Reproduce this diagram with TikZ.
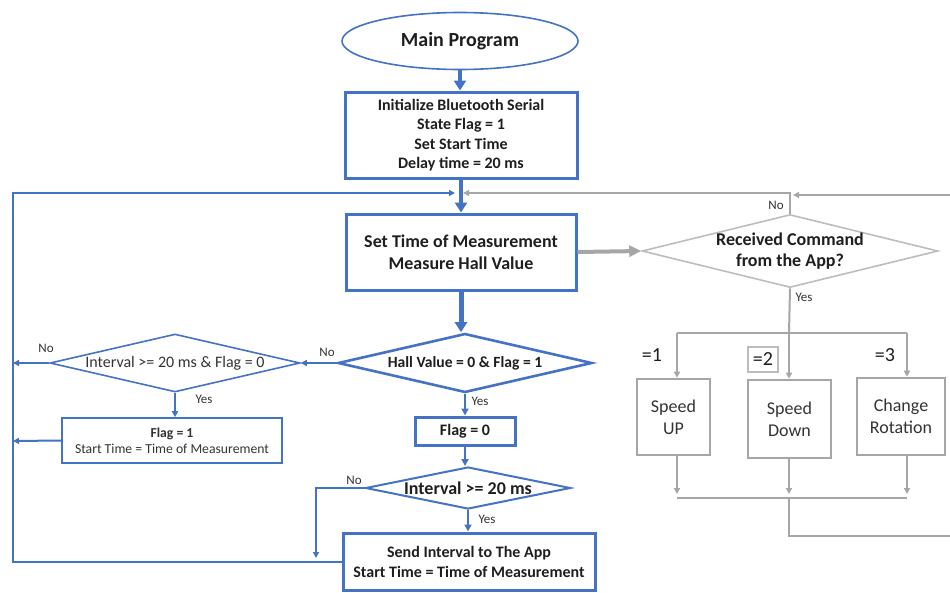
\documentclass[tikz,border=0pt]{standalone}
\usepackage{fontspec}
\setmainfont{Carlito}
\usetikzlibrary{arrows.meta,shapes.geometric,calc}
\definecolor{flowblue}{HTML}{4472C4}
\definecolor{flowgray}{HTML}{A6A6A6}
\definecolor{lightgray}{HTML}{BDBDBD}
\definecolor{inkdark}{HTML}{1E1E1E}
\definecolor{inksoft}{HTML}{333333}

\begin{document}
\begin{tikzpicture}[x=1pt,y=-1pt,
  every node/.style={text=inkdark, inner sep=0pt, align=center},
  thickbox/.style={rectangle, draw=flowblue, line width=3pt, font=\bfseries\fontsize{16}{19.5}\selectfont},
  thinbox/.style={rectangle, draw=flowblue, line width=1.6pt},
  graybox/.style={rectangle, draw=flowgray, line width=2.6pt, font=\fontsize{18}{22}\selectfont, text=inksoft},
  decision/.style={diamond, draw=flowblue, line width=1.8pt},
  bigtip/.style={-{Triangle[length=10pt,width=12pt]}},
  midtip/.style={-{Triangle[length=7pt,width=7pt]}},
  smalltip/.style={-{Triangle[length=6pt,width=6pt]}},
  blueline/.style={draw=flowblue, line width=2pt},
  bluethick/.style={draw=flowblue, line width=4pt},
  grayline/.style={draw=flowgray, line width=2pt},
  tag/.style={font=\fontsize{13}{15}\selectfont, text=inksoft},
  eqtag/.style={font=\fontsize{20}{22}\selectfont, text=inkdark}
]
\useasboundingbox (0,0) rectangle (950,592);

% ---------- main flow (blue) ----------
\node[ellipse, draw=flowblue, line width=1.6pt, minimum width=236pt, minimum height=57pt,
      font=\bfseries\fontsize{20}{22}\selectfont] (main) at (460,41) {Main Program};

\node[thickbox, minimum width=232pt, minimum height=86pt] (init) at (461,135)
  {Initialize Bluetooth Serial\\State Flag = 1\\Set Start Time\\Delay time = 20 ms};

\node[thickbox, minimum width=230pt, minimum height=76pt, font=\bfseries\fontsize{18}{22}\selectfont] (meas) at (461,252)
  {Set Time of Measurement\\Measure Hall Value};

\node[decision, line width=2.6pt, minimum width=254pt, minimum height=59pt, aspect=4.3,
      font=\bfseries\fontsize{15.6}{17}\selectfont] (hall) at (465,363) {Hall Value = 0 \& Flag = 1};

\node[decision, line width=1.6pt, minimum width=250pt, minimum height=58pt, aspect=4.3, inner ysep=-2pt,
      font=\fontsize{16}{18}\selectfont, text=inksoft] (ifl) at (175,363) {Interval >= 20 ms \& Flag = 0};

\node[thinbox, minimum width=220pt, minimum height=45pt, font=\fontsize{13.7}{15.5}\selectfont, text=inksoft] (f1) at (172,440.5)
  {\textbf{Flag = 1}\\Start Time = Time of Measurement};

\node[thickbox, minimum width=100pt, minimum height=28pt] (f0) at (465,431) {Flag = 0};

\node[decision, line width=2pt, minimum width=205pt, minimum height=42pt, aspect=4.9, inner xsep=-6pt,
      font=\bfseries\fontsize{18}{20}\selectfont] (i20) at (468,488) {Interval >= 20 ms};

\node[thickbox, minimum width=252pt, minimum height=57pt, font=\bfseries\fontsize{16}{20}\selectfont] (send) at (469,561.5)
  {Send Interval to The App\\Start Time = Time of Measurement};

% ---------- command handling (gray) ----------
\node[diamond, draw=lightgray, line width=1.6pt, minimum width=296pt, minimum height=73pt, aspect=4.05, inner ysep=-6pt,
      font=\bfseries\fontsize{18}{21}\selectfont] (recv) at (790,251) {Received Command\\from the App?};

\node[graybox, minimum width=73pt, minimum height=76pt] (su) at (673.5,417) {Speed\\UP};
\node[graybox, minimum width=83pt, minimum height=78pt] (sd) at (789.5,419) {Speed\\Down};
\node[graybox, minimum width=88pt, minimum height=77pt] (cr) at (901,416.5) {Change\\Rotation};

\node[eqtag] (e1) at (652,355) {=1};
\node[eqtag, draw=lightgray, line width=1.2pt, minimum width=30pt, minimum height=25pt] (e2) at (763,359.5) {=2};
\node[eqtag] (e3) at (885,355) {=3};

% ---------- helper points ----------
\coordinate (loopL) at (13,193);
\coordinate (jl) at (455,193);
\coordinate (jr) at (463,193);
\coordinate (leftbus) at (13,363);
\coordinate (leftbus2) at (13,441);
\coordinate (noTurn) at (316,558);
\coordinate (s1) at (677,333);
\coordinate (s2) at (789,333);
\coordinate (s3) at (907,333);
\coordinate (m1) at (677,498);
\coordinate (m2) at (789,498);
\coordinate (m3) at (907,498);
\coordinate (outR) at (962,536);
\coordinate (recvin) at (793,195);

% ---------- blue connectors ----------
\draw[bluethick, line width=3.5pt, bigtip] (main.south) -- (main.south |- init.north);
\draw[bluethick, bigtip] (init.south) -- (init.south |- meas.north);
\draw[blueline, smalltip] (send.west) -| (loopL) -- (jl);
\draw[bluethick, line width=5pt, bigtip] (meas.south) -- (meas.south |- hall.north);

\draw[blueline, smalltip] (hall.west) -- (ifl.east);
\draw[blueline, smalltip] (ifl.west) -- (leftbus);
\draw[blueline, smalltip] (ifl.south) -- (ifl.south |- f1.north);
\draw[blueline, smalltip] (f1.west) -- (leftbus2);

\draw[blueline, line width=2.5pt, midtip] (hall.south) -- (hall.south |- f0.north);
\draw[blueline, line width=2.5pt, midtip] (f0.south) -- (f0.south |- i20.north);
\draw[blueline, smalltip] (i20.west) -| (noTurn);
\draw[blueline, line width=2.5pt, midtip] (i20.south) -- (i20.south |- send.north);

% ---------- gray connectors ----------
\draw[grayline, line width=4pt, -{Triangle[length=12pt,width=11pt]}] (meas.east) -- (recv.west);
\draw[grayline, smalltip] (recv.north) |- (jr);
\draw[grayline] (recv.south) -- (s2);
\draw[grayline] (s1) -- (s3);
\draw[grayline, smalltip] (s1) -- (s1 |- su.north);
\draw[grayline, smalltip] (s2) -- (s2 |- sd.north);
\draw[grayline, smalltip] (s3) -- (s3 |- cr.north);
\draw[grayline, smalltip] (su.south -| m1) -- ($(m1)+(0,-4)$);
\draw[grayline, smalltip] (sd.south -| m2) -- ($(m2)+(0,-4)$);
\draw[grayline, smalltip] (cr.south -| m3) -- ($(m3)+(0,-4)$);
\draw[grayline] (m1) -- (m3);
\draw[grayline, smalltip] (m2) |- (outR) |- (recvin);

% ---------- branch labels ----------
\node[tag] (tNo1) at (327,352) {No};
\node[tag] (tNo2) at (46,348) {No};
\node[tag] (tYes1) at (204,399) {Yes};
\node[tag] (tYes2) at (480,401) {Yes};
\node[tag] (tNo3) at (354,480) {No};
\node[tag] (tYes3) at (487,519) {Yes};
\node[tag] (tNo4) at (776,205) {No};
\node[tag] (tYes4) at (804,297) {Yes};
\end{tikzpicture}
\end{document}
